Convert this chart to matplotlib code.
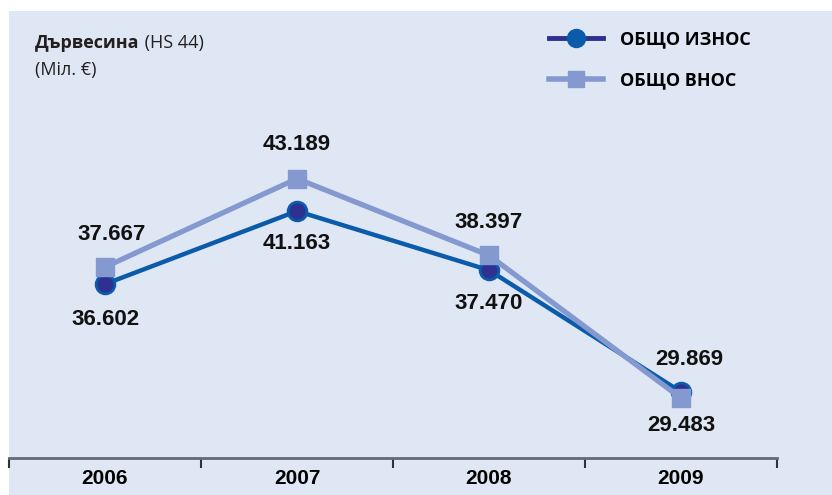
import matplotlib
matplotlib.use("Agg")
import matplotlib.pyplot as plt
from matplotlib.lines import Line2D
from matplotlib.patches import Rectangle

years = ["2006", "2007", "2008", "2009"]
export_vals = [36.602, 41.163, 37.470, 29.869]
import_vals = [37.667, 43.189, 38.397, 29.483]
export_labels = ["36.602", "41.163", "37.470", "29.869"]
import_labels = ["37.667", "43.189", "38.397", "29.483"]

BG = "#E0E7F4"
EXP_LINE = "#0A5CAB"
EXP_FACE = "#2E3192"
IMP = "#8499CF"

W, H = 832, 495
fig = plt.figure(figsize=(W / 100, H / 100), dpi=100)
fig.patch.set_facecolor("white")
fig.patches.append(Rectangle((9 / W, 0), 1 - 9 / W, 1 - 11 / H,
                             transform=fig.transFigure, facecolor=BG,
                             edgecolor="none", zorder=-5))

ax = fig.add_axes([9 / W, 37 / H, 768 / W, (458 - 11) / H])
ax.set_facecolor("none")
x = range(len(years))

ax.plot(x, export_vals, color=EXP_LINE, lw=3.2, marker="o", ms=13.5,
        mfc=EXP_FACE, mec=EXP_LINE, mew=2, zorder=3)
ax.plot(x, import_vals, color=IMP, lw=3.8, marker="s", ms=12.5,
        mfc=IMP, mec=IMP, zorder=4)

# data labels, offsets in pixels (dx, dy down)
lab = dict(ha="center", va="center", fontsize=16, fontweight="bold",
           family="Liberation Sans", color="#111111")
exp_off = [35, 32, 33, -32]
imp_off = [-33, -34, -33, 27]
exp_dx = [0, 0, 0, 8]
imp_dx = [7, 0, 0, 0]
for i in x:
    ax.annotate(export_labels[i], (i, export_vals[i]), xytext=(exp_dx[i] * 0.72, -exp_off[i] * 0.72),
                textcoords="offset points", **lab)
    ax.annotate(import_labels[i], (i, import_vals[i]), xytext=(imp_dx[i] * 0.72, -imp_off[i] * 0.72),
                textcoords="offset points", **lab)

ax.set_xlim(-0.5, 3.5)
ax.set_ylim(25.74, 53.66)
for s in ["left", "right", "top"]:
    ax.spines[s].set_visible(False)
ax.spines["bottom"].set_color("#5F6B78")
ax.spines["bottom"].set_linewidth(2)
ax.set_yticks([])
ax.set_xticks(list(x))
ax.set_xticklabels(years, fontsize=15, fontweight="bold",
                   family=["Liberation Sans Narrow", "Liberation Sans"])
ax.tick_params(axis="x", which="major", length=0, pad=8)
ax.set_xticks([-0.5, 0.5, 1.5, 2.5, 3.5], minor=True)
ax.tick_params(axis="x", which="minor", length=7, width=1.5, color="#333333", direction="out")

t1 = fig.text(35 / W, 1 - 43 / H, "Дървесина", fontsize=13, fontweight="bold",
              family="Open Sans", va="center", color="#231F20")
ax.annotate(" (HS 44)", xy=(1, 0.5), xycoords=t1, va="center", ha="left",
            fontsize=13, family="Open Sans", color="#231F20", annotation_clip=False)
fig.text(35 / W, 1 - 70 / H, "(Міл. €)", fontsize=13,
         family="Open Sans", va="center", color="#231F20")

handles = [
    Line2D([], [], color=EXP_FACE, lw=3.5, marker="o", ms=13, mfc=EXP_LINE, mec=EXP_LINE),
    Line2D([], [], color=IMP, lw=4, marker="s", ms=12, mfc=IMP, mec=IMP),
]
fig.legend(handles, ["ОБЩО ИЗНОС", "ОБЩО ВНОС"], loc="upper left",
           bbox_to_anchor=(533 / W, 1 - 14 / H), frameon=False, handlelength=3.0,
           labelspacing=1.3, handletextpad=0.9,
           prop={"family": "Open Sans", "weight": "bold", "size": 13})

fig.savefig("out.png", dpi=100)
